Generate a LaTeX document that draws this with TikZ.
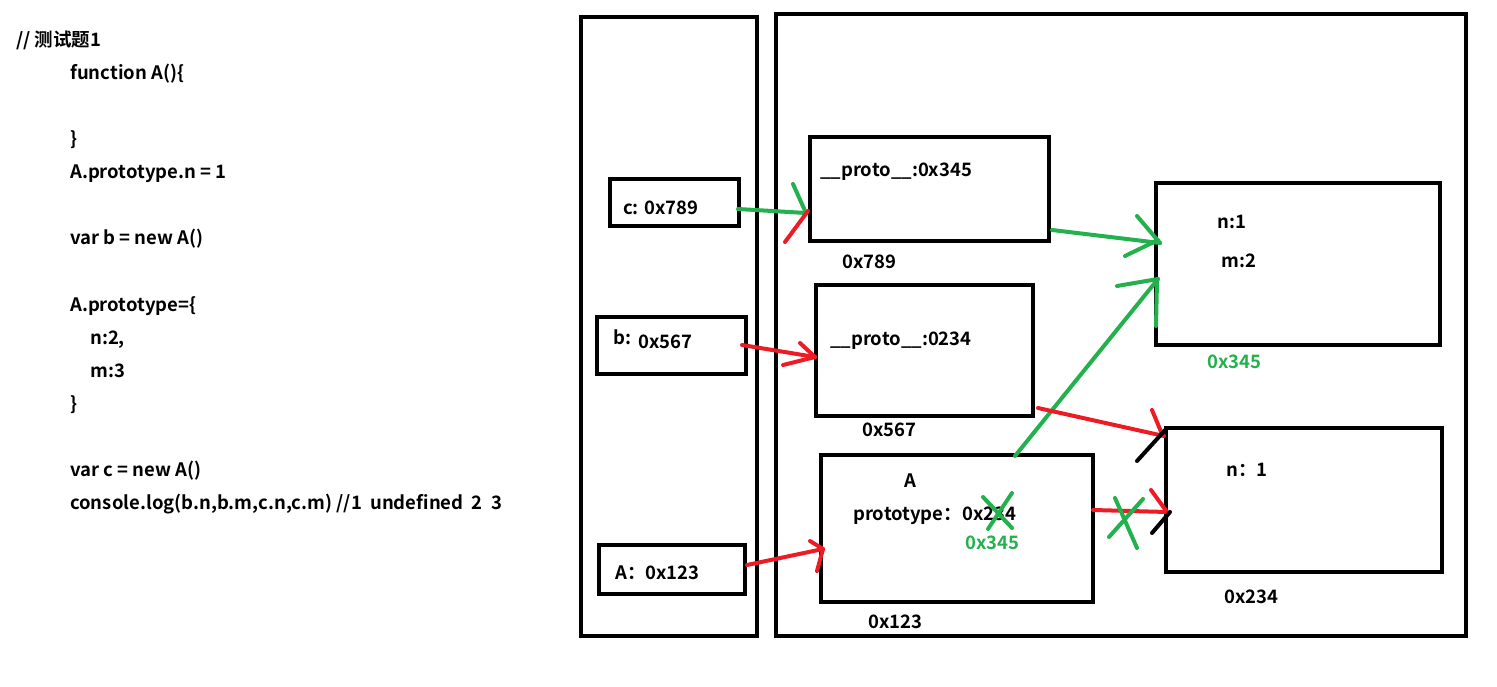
\documentclass[tikz,border=0pt]{standalone}
\usepackage{fontspec}
\setmainfont{Noto Sans CJK SC}[BoldFont={Noto Sans CJK SC Bold}]
\definecolor{pgreen}{HTML}{22B14C}
\definecolor{pred}{HTML}{ED1C24}
\begin{document}
\begin{tikzpicture}[x=1pt,y=-1pt,
  every node/.style={font=\fontsize{18.5}{22}\selectfont\bfseries, inner sep=0pt},
  txt/.style={anchor=base west},
  memory/.style={draw, line width=4.5pt, rectangle, outer sep=0pt, anchor=north west},
  gline/.style={draw=pgreen, line width=4pt, line cap=round},
  rline/.style={draw=pred, line width=4pt, line cap=round},
  kline/.style={draw=black, line width=4pt, line cap=round}]
\useasboundingbox (0,0) rectangle (1497,687);

% source code
\node[txt] at (16,47) {// 测试题1};
\node[txt] at (70,80) {function A()\{};
\node[txt] at (70,146) {\}};
\node[txt] at (70,179) {A.prototype.n = 1};
\node[txt] at (70,245) {var b = new A()};
\node[txt] at (70,311) {A.prototype=\{};
\node[txt] at (90,344) {n:2,};
\node[txt] at (90,377) {m:3};
\node[txt] at (70,410) {\}};
\node[txt] at (70,476) {var c = new A()};
\node[txt] at (70,509) {console.log(b.n,b.m,c.n,c.m) //1\ \ undefined\ \ 2\ \ 3};

% stack and heap regions
\node[memory, minimum width=176pt, minimum height=619pt] (stack) at (581,17) {};
\node[memory, minimum width=690pt, minimum height=622pt] (heap) at (776,14) {};

% stack variables
\node[memory, minimum width=129pt, minimum height=47pt] (vc) at (610,179) {};
\node[txt] at (623,215) {c: 0x789};
\node[memory, minimum width=149pt, minimum height=57pt] (vb) at (597,317) {};
\node[txt] at (613,344) {b:};
\node[txt] at (638,348) {0x567};
\node[memory, minimum width=146pt, minimum height=49pt] (vA) at (599,545) {};
\node[txt] at (615,579) {A：0x123};

% heap objects
\node[memory, minimum width=239pt, minimum height=104pt] (oc) at (810,137) {};
\node[txt] at (820,177) {\_\_proto\_\_:0x345};
\node[txt] at (842,269) {0x789};

\node[memory, minimum width=217pt, minimum height=131pt] (ob) at (816,285) {};
\node[txt] at (830,345) {\_\_proto\_\_:0234};
\node[txt] at (862,436) {0x567};

\node[memory, minimum width=272pt, minimum height=147pt] (fA) at (821,455) {};
\node[anchor=base] at (910,487) {A};
\node[txt] at (853,520) {prototype：0x234};
\node[txt, text=pgreen] at (965,549) {0x345};
\node[txt] at (868,628) {0x123};

\node[memory, minimum width=284pt, minimum height=162pt] (pnew) at (1156,183) {};
\node[txt] at (1217,229) {n:1};
\node[txt] at (1221,268) {m:2};
\node[txt, text=pgreen] at (1207,368) {0x345};

\node[memory, minimum width=276pt, minimum height=144pt] (pold) at (1166,428) {};
\node[txt] at (1226,476) {n：1};
\node[txt] at (1224,603) {0x234};

% c -> its object
\coordinate (c1) at (738,209);
\coordinate (c2) at (806,213);
\draw[gline] (c1) -- (c2);
\draw[gline] (793,184) -- (c2);
\draw[rline] (785,242) -- (808,211);

% b -> its object
\coordinate (b1) at (742,345);
\coordinate (b2) at (815,357);
\draw[rline] (b1) -- (b2);
\draw[rline] (800,343) -- (b2);
\draw[rline] (783,365) -- (b2);

% A -> function object
\coordinate (a1) at (747,565);
\coordinate (a2) at (823,549);
\draw[rline] (a1) -- (a2);
\draw[rline] (810,541) -- (a2);
\draw[rline] (817,571) -- (a2);

% c.__proto__ -> new prototype
\coordinate (p1) at (1052,230);
\coordinate (p2) at (1160,243);
\draw[gline] (p1) -- (p2);
\draw[gline] (1137,216) -- (p2);
\draw[gline] (1125,256) -- (1158,240);

% A.prototype -> new prototype
\coordinate (q1) at (1015,456);
\coordinate (q2) at (1158,279);
\draw[gline] (q1) -- (q2);
\draw[gline] (1117,286) -- (q2);
\draw[gline] (1156,326) -- (1157,281);

% b.__proto__ -> old prototype
\coordinate (r1) at (1038,408);
\coordinate (r2) at (1164,436);
\draw[rline] (r1) -- (r2);
\draw[rline] (1152,410) -- (1162,434);
\draw[kline] (1137,461) -- (1167,428);

% old A.prototype link, crossed out
\coordinate (s1) at (1093,510);
\coordinate (s2) at (1167,512);
\draw[rline] (s1) -- (s2);
\draw[rline] (1151,490) -- (s2);
\draw[kline] (1152,533) -- (1170,512);
\draw[gline] (1115,498) -- (1137,548);
\draw[gline] (1143,499) -- (1109,537);

% crossed out old address
\draw[gline] (983,497) -- (1012,528);
\draw[gline] (1012,493) -- (988,529);
\end{tikzpicture}
\end{document}
